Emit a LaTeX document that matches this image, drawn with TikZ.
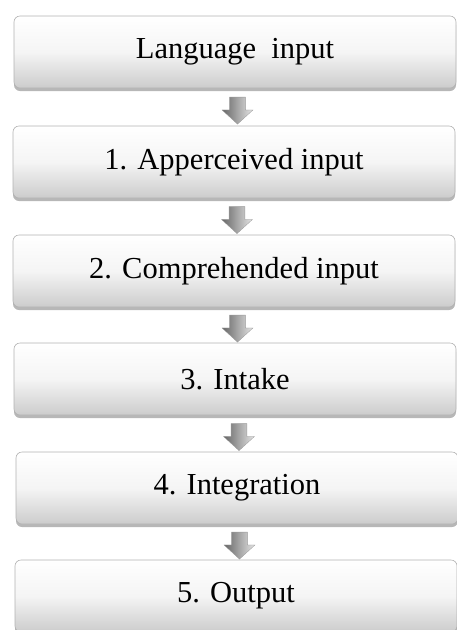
\documentclass[tikz,border=0pt]{standalone}
\usepackage{fontspec}
\setmainfont{Liberation Serif}
\usetikzlibrary{shadows,shapes.arrows,calc}

\tikzset{
  stagebox/.style={
    rectangle, rounded corners=6pt,
    minimum width=442pt, minimum height=72pt,
    top color=white, bottom color=black!20,
    middle color=black!4,
    draw=black!30, line width=0.6pt,
    drop shadow={shadow xshift=0pt, shadow yshift=-3pt, opacity=0.4, fill=black!70},
    font=\fontsize{30.5}{34}\selectfont, text=black
  },
  downarrow/.style={
    single arrow, shape border rotate=270,
    minimum height=27pt, minimum width=31pt,
    single arrow head extend=5pt, single arrow tip angle=95,
    inner sep=5pt,
    left color=black!60, right color=black!10,
    draw=black!40, line width=0.3pt
  }
}

\begin{document}
\begin{tikzpicture}[x=1pt,y=-1pt]
  \useasboundingbox (0,0) rectangle (457,630);

  \node[stagebox] (b0) at (235,52)  {Language\ \ input};
  \node[stagebox] (b1) at (234,162) {1. Apperceived input};
  \node[stagebox] (b2) at (234,271) {2. Comprehended input};
  \node[stagebox] (b3) at (235,379) {3. Intake};
  \node[stagebox] (b4) at (237,488) {4. Integration};
  \node[stagebox] (b5) at (236,596) {5. Output};

  % block arrows linking consecutive stages
  \foreach \a/\b in {b0/b1,b1/b2,b2/b3,b3/b4,b4/b5}{
    \node[downarrow] at ($(\a.south)!0.5!(\b.north)+(3,0)$) {};
  }
\end{tikzpicture}
\end{document}
